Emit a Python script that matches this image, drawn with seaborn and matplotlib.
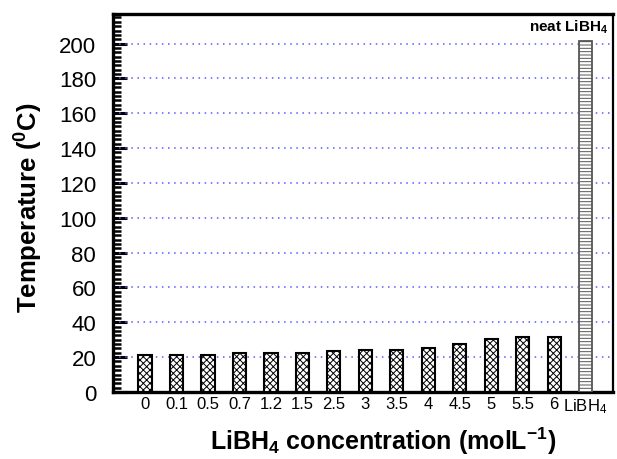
import matplotlib
matplotlib.use("Agg")
import matplotlib.pyplot as plt
from matplotlib.ticker import MultipleLocator
import seaborn as sns
import pandas as pd

# Onset temperature of LiBH4 solutions vs. concentration, plus neat LiBH4
categories = ["0", "0.1", "0.5", "0.7", "1.2", "1.5", "2.5", "3", "3.5",
              "4", "4.5", "5", "5.5", "6", "LiBH$_4$"]
temperatures = [21.3, 21.2, 21.2, 22.3, 22.3, 22.3, 23.4, 24.3, 24.3,
                25.5, 27.4, 30.5, 31.4, 31.4, 201.7]
y_ticks = [0, 20, 40, 60, 80, 100, 120, 140, 160, 180, 200]

sns.set_theme(style="white")
plt.rcParams["font.family"] = ["Liberation Sans", "DejaVu Sans"]
plt.rcParams["mathtext.fontset"] = "custom"
plt.rcParams["mathtext.rm"] = "Liberation Sans"
plt.rcParams["mathtext.it"] = "Liberation Sans"
plt.rcParams["mathtext.bf"] = "Liberation Sans:bold"
plt.rcParams["hatch.linewidth"] = 0.7

df = pd.DataFrame({"conc": categories, "temp": temperatures})

fig = plt.figure(figsize=(6.17, 4.60), dpi=100)
ax = fig.add_axes([0.183, 0.1457, 0.8105, 0.8217])

sns.barplot(data=df, x="conc", y="temp", color="white", width=0.42,
            edgecolor="black", linewidth=1.5, saturation=1, ax=ax, zorder=3)

for i, bar in enumerate(ax.patches):
    if i == len(categories) - 1:
        bar.set_hatch("-----")
        bar.set_edgecolor("#555555")
        bar.set_linewidth(1.3)
    else:
        bar.set_hatch("xxxxx")
        bar.set_edgecolor("black")

ax.set_xlim(-1.02, 14.87)
ax.set_ylim(0, 217)
ax.set_yticks(y_ticks)
ax.yaxis.set_minor_locator(MultipleLocator(2.5))

# Dotted blue horizontal grid at major ticks
for yv in y_ticks[1:]:
    ax.axhline(yv, color="#5a5aff", linestyle=(0, (1, 3)), linewidth=1.1, zorder=1)

ax.tick_params(axis="y", which="major", direction="in", length=10, width=2.2,
               labelsize=16, pad=12, left=True, color="black")
ax.tick_params(axis="y", which="minor", direction="in", length=6, width=1.8,
               left=True, color="black")
ax.tick_params(axis="x", which="both", length=0, labelsize=12, pad=3,
               labelcolor="black")
ax.tick_params(axis="y", labelcolor="black")

for side in ["left", "bottom", "top"]:
    ax.spines[side].set_linewidth(2.4)
    ax.spines[side].set_color("black")
ax.spines["right"].set_linewidth(1.6)
ax.spines["right"].set_color("black")

ax.set_xlabel("LiBH$_\\mathbf{4}$ concentration (molL$^\\mathbf{-1}$)",
              fontsize=18, fontweight="bold", color="black")
ax.set_ylabel("Temperature ($^\\mathbf{0}$C)", fontsize=18.5, fontweight="bold",
              color="black")
ax.xaxis.set_label_coords(0.54, -0.085)
ax.yaxis.set_label_coords(-0.135, 0.49)

ax.text(0.99, 0.99, "neat LiBH$_\\mathbf{4}$", transform=ax.transAxes,
        ha="right", va="top", fontsize=11, fontweight="bold", color="black")

fig.savefig("out.png", dpi=100)
